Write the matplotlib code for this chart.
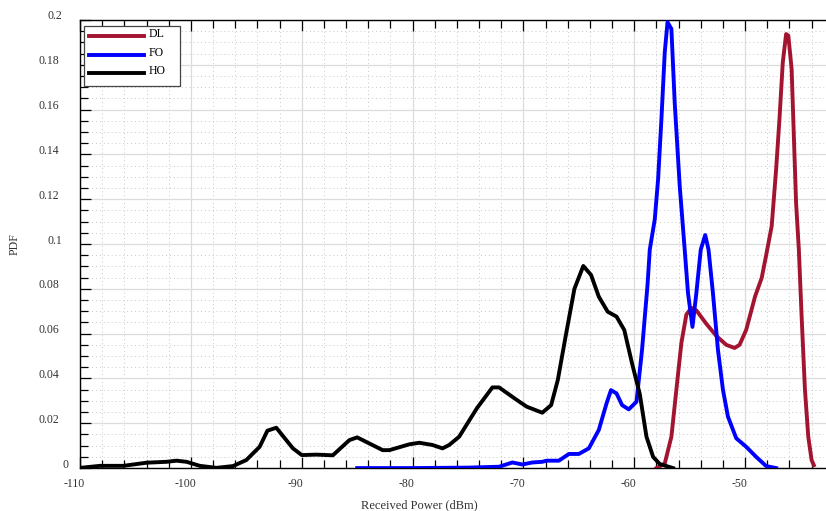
import matplotlib
matplotlib.use("Agg")
import matplotlib.pyplot as plt
import matplotlib.ticker as ticker
from matplotlib.transforms import ScaledTranslation

# values
dl_x = [-58.0, -57.25, -56.65, -56.2, -55.75, -55.3, -54.85, -54.4, -53.5, -52.6, -51.7, -50.95,
        -50.5, -49.9, -49.1, -48.5, -48.1, -47.6, -47.2, -46.9, -46.6, -46.3, -46.1, -45.8,
        -45.6, -45.4, -45.15, -44.9, -44.6, -44.3, -44.0, -43.8]
dl_y = [0.0, 0.002, 0.014, 0.035, 0.0558, 0.0685, 0.0715, 0.0704, 0.0644, 0.059, 0.055, 0.0536,
        0.055, 0.0617, 0.0766, 0.0849, 0.095, 0.108, 0.1333, 0.1557, 0.181, 0.1937, 0.193, 0.178,
        0.148, 0.1184, 0.0975, 0.0677, 0.035, 0.014, 0.0036, 0.0013]

fo_x = [-85, -80, -75, -72.2, -71.0, -70.1, -69.2, -68.3, -67.9, -66.8, -65.9, -65.0, -64.1,
        -63.2, -62.5, -62.1, -61.6, -61.1, -60.5, -59.8, -59.3, -58.8, -58.6, -58.15, -57.85,
        -57.55, -57.25, -57.0, -56.65, -56.35, -55.9, -55.45, -55.15, -54.75, -54.4, -54.0,
        -53.6, -53.3, -52.9, -52.45, -52.0, -51.55, -50.8, -49.9, -49.0, -48.1, -47.2]
fo_y = [0.0, 0.0, 0.0002, 0.0006, 0.0025, 0.0016, 0.0025, 0.0028, 0.0033, 0.0033, 0.0063, 0.0063,
        0.0088, 0.017, 0.0289, 0.0348, 0.0333, 0.0281, 0.0262, 0.0296, 0.0527, 0.082, 0.0975,
        0.111, 0.1289, 0.1557, 0.1855, 0.199, 0.196, 0.163, 0.126, 0.0975, 0.078, 0.063, 0.078,
        0.0975, 0.104, 0.0975, 0.078, 0.0528, 0.035, 0.023, 0.0133, 0.0095, 0.005, 0.0009, 0.0]

ho_x = [-110, -108.2, -106.1, -104, -102.2, -101.3, -100.4, -99.2, -97.7, -96.2, -95, -93.8,
        -93.1, -92.3, -90.8, -90, -88.7, -87.2, -85.7, -85, -82.7, -82.1, -80.3, -79.4, -78.2,
        -77.3, -76.7, -75.8, -74.2, -72.8, -72.2, -70.6, -69.7, -68.3, -67.5, -66.9, -66.2,
        -65.4, -64.6, -63.9, -63.2, -62.4, -61.6, -60.9, -60.2, -59.5, -58.9, -58.3, -57.7, -56.5]
ho_y = [0.0001, 0.001, 0.001, 0.0024, 0.0028, 0.0033, 0.0028, 0.001, 0.0001, 0.0009, 0.0036,
        0.0095, 0.0167, 0.018, 0.0088, 0.0058, 0.006, 0.0057, 0.0125, 0.0137, 0.008, 0.008,
        0.0106, 0.0113, 0.0103, 0.0088, 0.0103, 0.014, 0.0267, 0.036, 0.036, 0.0304, 0.0274,
        0.0247, 0.0281, 0.0393, 0.0586, 0.080, 0.0902, 0.0862, 0.0765, 0.0698, 0.0676, 0.0616,
        0.0467, 0.033, 0.014, 0.005, 0.0018, 0.0]

plt.rcParams['font.family'] = ['Liberation Serif', 'DejaVu Serif']
plt.rcParams['font.size'] = 8

fig = plt.figure(figsize=(8.26, 5.11), dpi=100)
ax = fig.add_axes([0.097, 0.084, 0.903, 0.877])

lw = 2.8
ax.plot(dl_x, dl_y, color='#A2142F', lw=lw, label='DL', solid_joinstyle='round', zorder=3)
ax.plot(fo_x, fo_y, color='#0000FF', lw=lw, label='FO', solid_joinstyle='round', zorder=3)
ax.plot(ho_x, ho_y, color='black', lw=lw, label='HO', solid_joinstyle='round', zorder=3)

ax.set_xlim(-110, -42.7)
ax.set_ylim(0, 0.2)

ax.xaxis.set_major_locator(ticker.MultipleLocator(10))
ax.xaxis.set_minor_locator(ticker.MultipleLocator(2))
ax.yaxis.set_major_locator(ticker.MultipleLocator(0.02))
ax.yaxis.set_minor_locator(ticker.MultipleLocator(0.005))
ax.yaxis.set_major_formatter(ticker.FuncFormatter(lambda v, p: '0' if abs(v) < 1e-9 else f'{v:g}'))
ax.xaxis.set_major_formatter(ticker.FuncFormatter(lambda v, p: f'{v:.0f}'))

ax.grid(True, which='major', color='#dcdcdc', lw=0.9, ls='-', zorder=0)
ax.grid(True, which='minor', color='#c8c8c8', lw=0.7, ls=(0, (1, 3)), zorder=0)

ax.spines['right'].set_visible(False)
for s in ['left', 'bottom', 'top']:
    ax.spines[s].set_linewidth(1.0)

ax.tick_params(which='both', direction='in', top=True, right=False, width=0.9, colors='black',
               labelcolor='#333333')
ax.tick_params(which='major', length=8)
ax.tick_params(which='minor', length=6)
ax.tick_params(axis='y', which='major', pad=15, labelsize=8.5)
ax.tick_params(axis='x', which='major', pad=7, labelsize=8.5)

# the reference labels sit a bit high and are not quite right aligned
fig.canvas.draw()
for lab in ax.get_yticklabels():
    n = len(lab.get_text())
    dx = (4 - n) * 3.2 / 100
    lab.set_transform(lab.get_transform() + ScaledTranslation(dx, 5 / 100, fig.dpi_scale_trans))
for lab in ax.get_xticklabels():
    lab.set_transform(lab.get_transform() + ScaledTranslation(-6 / 100, 0, fig.dpi_scale_trans))

ax.set_xlabel('Received Power (dBm)', fontsize=9, color='#333333')
ax.xaxis.set_label_coords(0.455, -0.07)
ax.set_ylabel('PDF', fontsize=8.5, color='#333333')
ax.yaxis.set_label_coords(-0.08, 0.5)

leg = ax.legend(loc='upper left', bbox_to_anchor=(0.0054, 0.855, 0.128, 0.1315), mode='expand',
                handlelength=4.6, fancybox=False, framealpha=1, edgecolor='#444444', fontsize=8.5,
                borderpad=0.45, labelspacing=0.55, handletextpad=0.4, borderaxespad=0.0)
leg.get_frame().set_linewidth(0.9)
for t in leg.get_texts():
    t.set_va('bottom')

fig.savefig('out.png', dpi=100)
